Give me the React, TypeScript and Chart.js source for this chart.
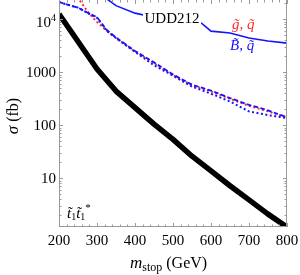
import React, { useEffect, useRef } from "react";
import { Chart, registerables } from "chart.js";

Chart.register(...registerables);

// ---- data ----
const stopMass = [200, 250, 300, 350, 400, 450, 500, 550, 600, 650, 700, 750, 800];
const stopXsec = [12500, 3800, 1150, 440, 215, 105, 54, 26, 13.7, 7.2, 3.9, 2.1, 1.2];

const uddMass = [300, 350, 400, 450, 500, 550, 575, 600, 650, 700, 750, 800];
const uddXsec = [33000, 18000, 13000, 10900, 9800, 8900, 8400, 5940, 5500, 4400, 3880, 3530];

const binoMass = [200, 250, 275, 300, 325, 350, 400, 450, 500, 550, 600, 650, 700, 750, 800];
const binoDashed = [20900, 16500, 13200, 10900, 6300, 4500, 2520, 1530, 907, 580, 450, 325, 242, 190, 141];
const binoDotted = [20900, 16500, 13100, 10600, 6100, 4400, 2420, 1350, 860, 535, 393, 280, 182, 155, 136];

const gluinoMass = [200, 250, 275, 300, 325, 350, 400, 450, 500, 550, 600, 650, 700, 750, 800];
const gluinoXsec = [80000, 25000, 14000, 8800, 6100, 4400, 2450, 1480, 880, 565, 435, 315, 232, 182, 140];

const xMin = 200;
const xMax = 800;
const yMin = 1.2;
const yMax = 23000;
const xMajor = [200, 300, 400, 500, 600, 700, 800];
const xLabels = ["200", "300", "400", "500", "600", "700", "800"];
const yMajor = [10, 100, 1000, 10000];
const yLabels = ["10", "100", "1000", "10^4"];

const SERIF = '"Liberation Serif", "Times New Roman", serif';
const BLUE = "#1414ff";
const RED = "#ff2a2a";
const FRAME = "#9a9a9a";

type Run = { t: string; font: string; dy?: number };

function runsWidth(ctx: CanvasRenderingContext2D, runs: Run[]) {
  let w = 0;
  for (const r of runs) {
    ctx.font = r.font;
    w += ctx.measureText(r.t).width;
  }
  return w;
}

function drawRuns(ctx: CanvasRenderingContext2D, x: number, y: number, runs: Run[]) {
  let cx = x;
  for (const r of runs) {
    ctx.font = r.font;
    ctx.fillText(r.t, cx, y + (r.dy || 0));
    cx += ctx.measureText(r.t).width;
  }
  return cx;
}

const pts = (xs: number[], ys: number[]) => xs.map((x, i) => ({ x, y: ys[i] }));

const decorPlugin = {
  id: "decor",
  afterDatasetsDraw(chart: any) {
    const { ctx, chartArea: a, scales } = chart;
    const xs = scales.x;
    const ys = scales.y;
    ctx.save();

    // frame
    ctx.strokeStyle = FRAME;
    ctx.lineWidth = 1;
    ctx.beginPath();
    ctx.moveTo(a.left + 0.5, a.top);
    ctx.lineTo(a.left + 0.5, a.bottom - 0.5);
    ctx.lineTo(a.right - 0.5, a.bottom - 0.5);
    ctx.lineTo(a.right - 0.5, a.top);
    ctx.stroke();

    // x ticks (inward, bottom and top)
    ctx.beginPath();
    for (let v = xMin; v <= xMax; v += 20) {
      const px = Math.round(xs.getPixelForValue(v)) + 0.5;
      const len = v % 100 === 0 ? 4 : 2.5;
      ctx.moveTo(px, a.bottom);
      ctx.lineTo(px, a.bottom - len);
      ctx.moveTo(px, a.top);
      ctx.lineTo(px, a.top + len);
    }
    // y ticks (inward, left and right)
    for (let d = 0; d <= 4; d++) {
      for (let k = 1; k <= 9; k++) {
        const v = k * Math.pow(10, d);
        if (v < yMin || v > yMax) continue;
        const py = Math.round(ys.getPixelForValue(v)) + 0.5;
        const len = k === 1 ? 4 : 2.5;
        ctx.moveTo(a.left, py);
        ctx.lineTo(a.left + len, py);
        ctx.moveTo(a.right, py);
        ctx.lineTo(a.right - len, py);
      }
    }
    ctx.stroke();

    ctx.fillStyle = "#000";
    // x tick labels
    ctx.font = `15px ${SERIF}`;
    ctx.textAlign = "center";
    ctx.textBaseline = "alphabetic";
    xMajor.forEach((v, i) => {
      ctx.fillText(xLabels[i], xs.getPixelForValue(v), a.bottom + 18);
    });

    // y tick labels
    ctx.textAlign = "left";
    yMajor.forEach((v, i) => {
      const py = ys.getPixelForValue(v);
      const lab = yLabels[i];
      if (lab.includes("^")) {
        const [base, exp] = lab.split("^");
        const runs: Run[] = [
          { t: base, font: `15px ${SERIF}`, dy: 3 },
          { t: exp, font: `10px ${SERIF}`, dy: -3 },
        ];
        const w = runsWidth(ctx, runs);
        drawRuns(ctx, a.left - 3 - w, py + 5, runs);
      } else {
        const runs: Run[] = [{ t: lab, font: `15px ${SERIF}` }];
        const w = runsWidth(ctx, runs);
        drawRuns(ctx, a.left - 3 - w, py + 5, runs);
      }
    });

    // x axis title
    const xt: Run[] = [
      { t: "m", font: `italic 17px ${SERIF}` },
      { t: "stop", font: `12px ${SERIF}`, dy: 3 },
      { t: " (GeV)", font: `16px ${SERIF}` },
    ];
    drawRuns(ctx, 130, a.bottom + 41, xt);

    // y axis title
    const yt: Run[] = [
      { t: "\u03c3", font: `italic 17px ${SERIF}` },
      { t: " (fb)", font: `16px ${SERIF}` },
    ];
    const ytw = runsWidth(ctx, yt);
    ctx.save();
    ctx.translate(18, 116);
    ctx.rotate(-Math.PI / 2);
    drawRuns(ctx, -ytw / 2, 0, yt);
    ctx.restore();

    // annotations
    ctx.font = `15px ${SERIF}`;
    const uw = ctx.measureText("UDD212").width;
    ctx.fillStyle = "#fff";
    ctx.fillRect(143, 9, uw + 3, 16);
    ctx.fillStyle = "#000";
    ctx.fillText("UDD212", 144.5, 23);

    ctx.fillStyle = RED;
    ctx.font = `italic 15px ${SERIF}`;
    ctx.fillText("g\u0303, q\u0303", 232, 29);

    ctx.fillStyle = BLUE;
    ctx.fillText("B\u0303, q\u0303", 230, 50);

    ctx.fillStyle = "#000";
    drawRuns(ctx, 67, 218, [
      { t: "t\u0303", font: `italic 15px ${SERIF}` },
      { t: "1", font: `10px ${SERIF}`, dy: 2 },
      { t: "t\u0303", font: `italic 15px ${SERIF}` },
      { t: "1", font: `10px ${SERIF}`, dy: 2 },
      { t: "*", font: `11px ${SERIF}`, dy: -7 },
    ]);

    ctx.restore();
  },
};

export default function App() {
  const ref = useRef<HTMLCanvasElement | null>(null);

  useEffect(() => {
    if (!ref.current) return;
    const common = { pointRadius: 0, tension: 0, fill: false, clip: 0 } as any;
    const chart = new Chart(ref.current, {
      type: "line",
      data: {
        datasets: [
          {
            ...common,
            data: pts(stopMass, stopXsec),
            borderColor: "#000",
            borderWidth: 5.5,
            borderJoinStyle: "round",
          },
          {
            ...common,
            data: pts(uddMass, uddXsec),
            borderColor: BLUE,
            borderWidth: 1.6,
          },
          {
            ...common,
            data: pts(binoMass, binoDotted),
            borderColor: BLUE,
            borderWidth: 2,
            borderDash: [2, 2.5],
          },
          {
            ...common,
            data: pts(binoMass, binoDashed),
            borderColor: BLUE,
            borderWidth: 1.8,
            borderDash: [4.5, 2.5],
          },
          {
            ...common,
            data: pts(gluinoMass, gluinoXsec),
            borderColor: RED,
            borderWidth: 2,
            borderDash: [2, 2.5],
          },
        ] as any,
      },
      options: {
        animation: false,
        responsive: false,
        devicePixelRatio: 1,
        layout: { padding: { left: 59, right: 13, top: 0, bottom: 48 } },
        plugins: { legend: { display: false }, tooltip: { enabled: false } },
        scales: {
          x: { type: "linear", min: xMin, max: xMax, display: false },
          y: { type: "logarithmic", min: yMin, max: yMax, display: false },
        },
      } as any,
      plugins: [decorPlugin],
    });
    return () => chart.destroy();
  }, []);

  return (
    <div style={{ position: "absolute", left: 0, top: 0, width: 300, height: 275, background: "#fff" }}>
      <canvas ref={ref} width={300} height={275} style={{ display: "block" }} />
    </div>
  );
}
